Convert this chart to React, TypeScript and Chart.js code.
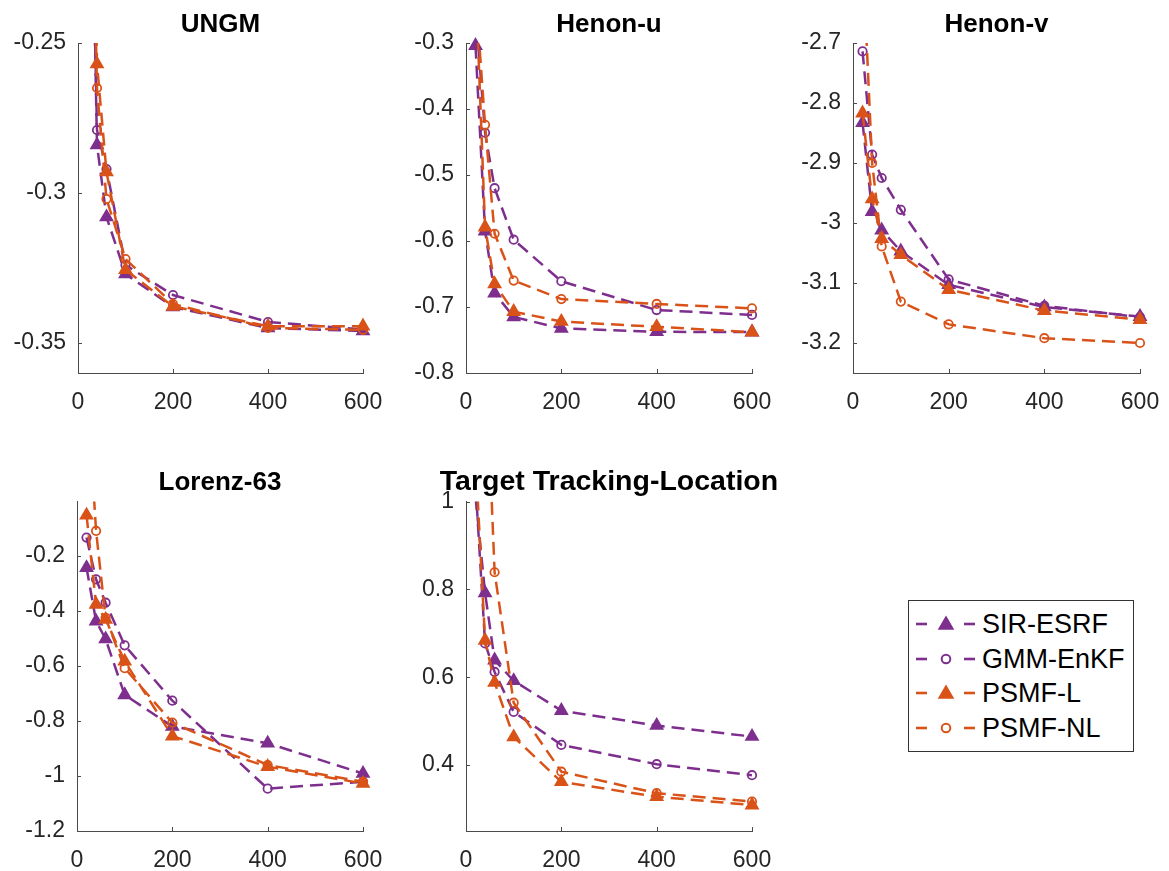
import React, { useEffect, useRef } from 'react';
import { Chart, registerables } from 'chart.js';

Chart.register(...registerables);

// ---------------- data ----------------
const xValues = [20, 40, 60, 100, 200, 400, 600];
const xTicks = [0, 200, 400, 600];
const seriesNames = ['SIR-ESRF', 'GMM-EnKF', 'PSMF-L', 'PSMF-NL'];

// UNGM
const ungmSIR = [-0.12, -0.284, -0.308, -0.327, -0.338, -0.345, -0.346];
const ungmGMM = [-0.13, -0.279, -0.292, -0.324, -0.334, -0.343, -0.3455];
const ungmPSMFL = [-0.1, -0.257, -0.293, -0.3256, -0.3378, -0.3444, -0.3444];
const ungmPSMFNL = [-0.11, -0.265, -0.302, -0.322, -0.337, -0.345, -0.3456];
const ungmYTicks = [-0.35, -0.3, -0.25];

// Henon-u
const henonUSIR = [-0.304, -0.585, -0.679, -0.715, -0.7325, -0.7376, -0.738];
const henonUGMM = [-0.25, -0.436, -0.52, -0.598, -0.661, -0.7046, -0.712];
const henonUPSMFL = [-0.2, -0.579, -0.665, -0.707, -0.722, -0.73, -0.738];
const henonUPSMFNL = [-0.22, -0.424, -0.589, -0.66, -0.688, -0.6954, -0.702];
const henonUYTicks = [-0.8, -0.7, -0.6, -0.5, -0.4, -0.3];

// Henon-v
const henonVSIR = [-2.833, -2.981, -3.012, -3.047, -3.103, -3.14, -3.156];
const henonVGMM = [-2.714, -2.886, -2.925, -2.978, -3.094, -3.138, -3.157];
const henonVPSMFL = [-2.817, -2.96, -3.026, -3.053, -3.111, -3.146, -3.161];
const henonVPSMFNL = [-2.55, -2.9, -3.039, -3.131, -3.169, -3.192, -3.2];
const henonVYTicks = [-3.2, -3.1, -3, -2.9, -2.8, -2.7];

// Lorenz-63
const lorenzSIR = [-0.243, -0.437, -0.502, -0.705, -0.82, -0.881, -0.991];
const lorenzGMM = [-0.133, -0.285, -0.37, -0.525, -0.726, -1.046, -1.021];
const lorenzPSMFL = [-0.052, -0.376, -0.431, -0.583, -0.855, -0.966, -1.027];
const lorenzPSMFNL = [0.45, -0.109, -0.425, -0.608, -0.806, -0.96, -1.021];
const lorenzYTicks = [-1.2, -1, -0.8, -0.6, -0.4, -0.2];

// Target Tracking-Location
const targetSIR = [1.01, 0.792, 0.639, 0.592, 0.524, 0.49, 0.465];
const targetGMM = [1.04, 0.677, 0.612, 0.521, 0.446, 0.402, 0.377];
const targetPSMFL = [1.1, 0.684, 0.588, 0.464, 0.362, 0.328, 0.309];
const targetPSMFNL = [2.0, 1.376, 0.839, 0.542, 0.385, 0.336, 0.317];
const targetYTicks = [0.4, 0.6, 0.8, 1];

// ---------------- styles ----------------
const PURPLE = '#7E2F8E';
const ORANGE = '#D95319';
const seriesColors = [PURPLE, PURPLE, ORANGE, ORANGE];
const seriesMarkers = ['triangle', 'circle', 'triangle', 'circle'];
const AXIS = '#4a4a4a';
const TICK = '#262626';
const FONT = "'Liberation Sans', Arial, Helvetica, sans-serif";
const TICK_SIZE = 23;

type PanelSpec = {
  title: string;
  titleSize: number;
  series: number[][];
  yMin: number;
  yMax: number;
  yTicks: number[];
  areaLeft: number;
  areaRight: number;
  areaTop: number;
  areaBottom: number;
  titleY: number;
  canvasLeft: number;
  canvasTop: number;
  canvasHeight: number;
};

const panels: PanelSpec[] = [
  {
    title: 'UNGM', titleSize: 26, series: [ungmSIR, ungmGMM, ungmPSMFL, ungmPSMFNL],
    yMin: -0.36, yMax: -0.25, yTicks: ungmYTicks,
    areaLeft: 78, areaRight: 363, areaTop: 43, areaBottom: 373, titleY: 25,
    canvasLeft: 0, canvasTop: 0, canvasHeight: 420,
  },
  {
    title: 'Henon-u', titleSize: 26, series: [henonUSIR, henonUGMM, henonUPSMFL, henonUPSMFNL],
    yMin: -0.8, yMax: -0.3, yTicks: henonUYTicks,
    areaLeft: 466, areaRight: 752, areaTop: 43, areaBottom: 373, titleY: 25,
    canvasLeft: 390, canvasTop: 0, canvasHeight: 420,
  },
  {
    title: 'Henon-v', titleSize: 26, series: [henonVSIR, henonVGMM, henonVPSMFL, henonVPSMFNL],
    yMin: -3.25, yMax: -2.7, yTicks: henonVYTicks,
    areaLeft: 853, areaRight: 1140, areaTop: 43, areaBottom: 373, titleY: 25,
    canvasLeft: 790, canvasTop: 0, canvasHeight: 420,
  },
  {
    title: 'Lorenz-63', titleSize: 26, series: [lorenzSIR, lorenzGMM, lorenzPSMFL, lorenzPSMFNL],
    yMin: -1.2, yMax: -0.002, yTicks: lorenzYTicks,
    areaLeft: 77, areaRight: 363, areaTop: 501.5, areaBottom: 831, titleY: 483,
    canvasLeft: 0, canvasTop: 440, canvasHeight: 431,
  },
  {
    title: 'Target Tracking-Location', titleSize: 28.5,
    series: [targetSIR, targetGMM, targetPSMFL, targetPSMFNL],
    yMin: 0.25, yMax: 1, yTicks: targetYTicks,
    areaLeft: 466, areaRight: 752, areaTop: 501.5, areaBottom: 831, titleY: 482,
    canvasLeft: 390, canvasTop: 440, canvasHeight: 431,
  },
];

const innerTicks = {
  id: 'innerTicks',
  afterDraw(chart: any) {
    const { ctx, chartArea, scales } = chart;
    const len = 4;
    ctx.save();
    ctx.strokeStyle = AXIS;
    ctx.lineWidth = 1;
    scales.x.ticks.forEach((t: any) => {
      const px = Math.round(scales.x.getPixelForValue(t.value)) + 0.5;
      ctx.beginPath();
      ctx.moveTo(px, chartArea.bottom);
      ctx.lineTo(px, chartArea.bottom - len);
      ctx.stroke();
    });
    scales.y.ticks.forEach((t: any) => {
      const py = Math.round(scales.y.getPixelForValue(t.value)) + 0.5;
      ctx.beginPath();
      ctx.moveTo(chartArea.left, py);
      ctx.lineTo(chartArea.left + len, py);
      ctx.stroke();
    });
    ctx.restore();
  },
};

function geometry(p: PanelSpec) {
  const center = (p.areaLeft + p.areaRight) / 2;
  const width = Math.round(2 * (center - p.canvasLeft));
  const yAxisW = p.areaLeft - p.canvasLeft;
  const rightPad = width - (p.areaRight - p.canvasLeft);
  const xAxisH = p.canvasTop + p.canvasHeight - p.areaBottom;
  const titleH = p.titleSize * 1.2;
  const padTop = p.titleY - p.canvasTop - titleH / 2;
  const padBottom = p.areaTop - p.canvasTop - padTop - titleH;
  return { width, yAxisW, rightPad, xAxisH, padTop, padBottom };
}

function PanelChart({ spec }: { spec: PanelSpec }) {
  const ref = useRef<HTMLCanvasElement | null>(null);
  const g = geometry(spec);
  useEffect(() => {
    if (!ref.current) return;
    const datasets: any[] = [];
    spec.series.forEach((vals, i) => {
      const color = seriesColors[i];
      const marker = seriesMarkers[i];
      const pts = xValues.map((x, k) => ({ x, y: vals[k] }));
      datasets.push({
        label: seriesNames[i],
        data: pts,
        showLine: true,
        borderColor: color,
        borderWidth: 2.5,
        borderDash: [13, 7],
        pointRadius: 0,
        fill: false,
        tension: 0,
        order: (3 - i) * 2 + 1,
      });
      datasets.push({
        label: seriesNames[i] + ' markers',
        data: pts.filter((pt) => pt.y >= spec.yMin && pt.y <= spec.yMax),
        showLine: false,
        pointStyle: marker,
        pointRadius: marker === 'triangle' ? 6.8 : 4.2,
        pointBackgroundColor: marker === 'triangle' ? color : 'rgba(255,255,255,0)',
        pointBorderColor: color,
        pointBorderWidth: 1.8,
        clip: false,
        order: (3 - i) * 2,
      });
    });
    const chart = new Chart(ref.current, {
      type: 'scatter',
      data: { datasets },
      plugins: [innerTicks],
      options: {
        responsive: false,
        maintainAspectRatio: false,
        animation: false,
        layout: { padding: 0 },
        plugins: {
          legend: { display: false },
          tooltip: { enabled: false },
          title: {
            display: true,
            text: spec.title,
            color: '#000000',
            font: { family: FONT, size: spec.titleSize, weight: 'bold', lineHeight: 1.2 },
            padding: { top: g.padTop, bottom: g.padBottom },
          },
        },
        scales: {
          x: {
            type: 'linear',
            min: 0,
            max: 600,
            grid: { display: false, drawTicks: false },
            border: { display: true, color: AXIS, width: 1 },
            ticks: {
              color: TICK,
              font: { family: FONT, size: TICK_SIZE },
              padding: 16,
              maxRotation: 0,
              autoSkip: false,
              callback: (v: any) => String(v),
            },
            afterBuildTicks: (s: any) => {
              s.ticks = xTicks.map((v) => ({ value: v }));
            },
            afterFit: (s: any) => {
              s.height = g.xAxisH;
              s.paddingRight = g.rightPad;
            },
          },
          y: {
            type: 'linear',
            min: spec.yMin,
            max: spec.yMax,
            grid: { display: false, drawTicks: false },
            border: { display: true, color: AXIS, width: 1 },
            ticks: {
              color: TICK,
              font: { family: FONT, size: TICK_SIZE },
              padding: 12,
              autoSkip: false,
              callback: (v: any) => String(v),
            },
            afterBuildTicks: (s: any) => {
              s.ticks = spec.yTicks.map((v) => ({ value: v }));
            },
            afterFit: (s: any) => {
              s.width = g.yAxisW;
            },
          },
        },
      } as any,
    });
    return () => chart.destroy();
  }, [spec]);
  return (
    <canvas
      ref={ref}
      width={g.width}
      height={spec.canvasHeight}
      style={{
        position: 'absolute',
        left: spec.canvasLeft,
        top: spec.canvasTop,
        width: g.width,
        height: spec.canvasHeight,
      }}
    />
  );
}

function LegendMarker({ i }: { i: number }) {
  const color = seriesColors[i];
  const cy = 17;
  return (
    <svg width={72} height={34} style={{ position: 'absolute', left: 0, top: 0 }}>
      <line x1={7} y1={cy} x2={18} y2={cy} stroke={color} strokeWidth={2.6} />
      <line x1={55} y1={cy} x2={66} y2={cy} stroke={color} strokeWidth={2.6} />
      {seriesMarkers[i] === 'triangle' ? (
        <polygon
          points={`${37},${cy - 7} ${44},${cy + 5} ${30},${cy + 5}`}
          fill={color}
          stroke={color}
          strokeWidth={1.5}
        />
      ) : (
        <circle cx={37} cy={cy} r={4.3} fill="none" stroke={color} strokeWidth={2} />
      )}
    </svg>
  );
}

function Legend() {
  return (
    <div
      style={{
        position: 'absolute',
        left: 908,
        top: 600,
        width: 226,
        height: 152,
        border: '1px solid #333333',
        background: '#ffffff',
        boxSizing: 'border-box',
      }}
    >
      {seriesNames.map((name, i) => (
        <div
          key={name}
          style={{ position: 'absolute', left: 0, top: 6 + i * 34.7, height: 34, width: 224 }}
        >
          <LegendMarker i={i} />
          <span
            style={{
              position: 'absolute',
              left: 73,
              top: 0,
              lineHeight: '34px',
              fontFamily: FONT,
              fontSize: 27,
              color: '#000000',
              whiteSpace: 'nowrap',
            }}
          >
            {name}
          </span>
        </div>
      ))}
    </div>
  );
}

export default function App() {
  return (
    <div
      style={{
        position: 'absolute',
        left: 0,
        top: 0,
        width: 1169,
        height: 871,
        overflow: 'hidden',
        background: '#ffffff',
      }}
    >
      {panels.map((p) => (
        <PanelChart key={p.title} spec={p} />
      ))}
      <Legend />
    </div>
  );
}
